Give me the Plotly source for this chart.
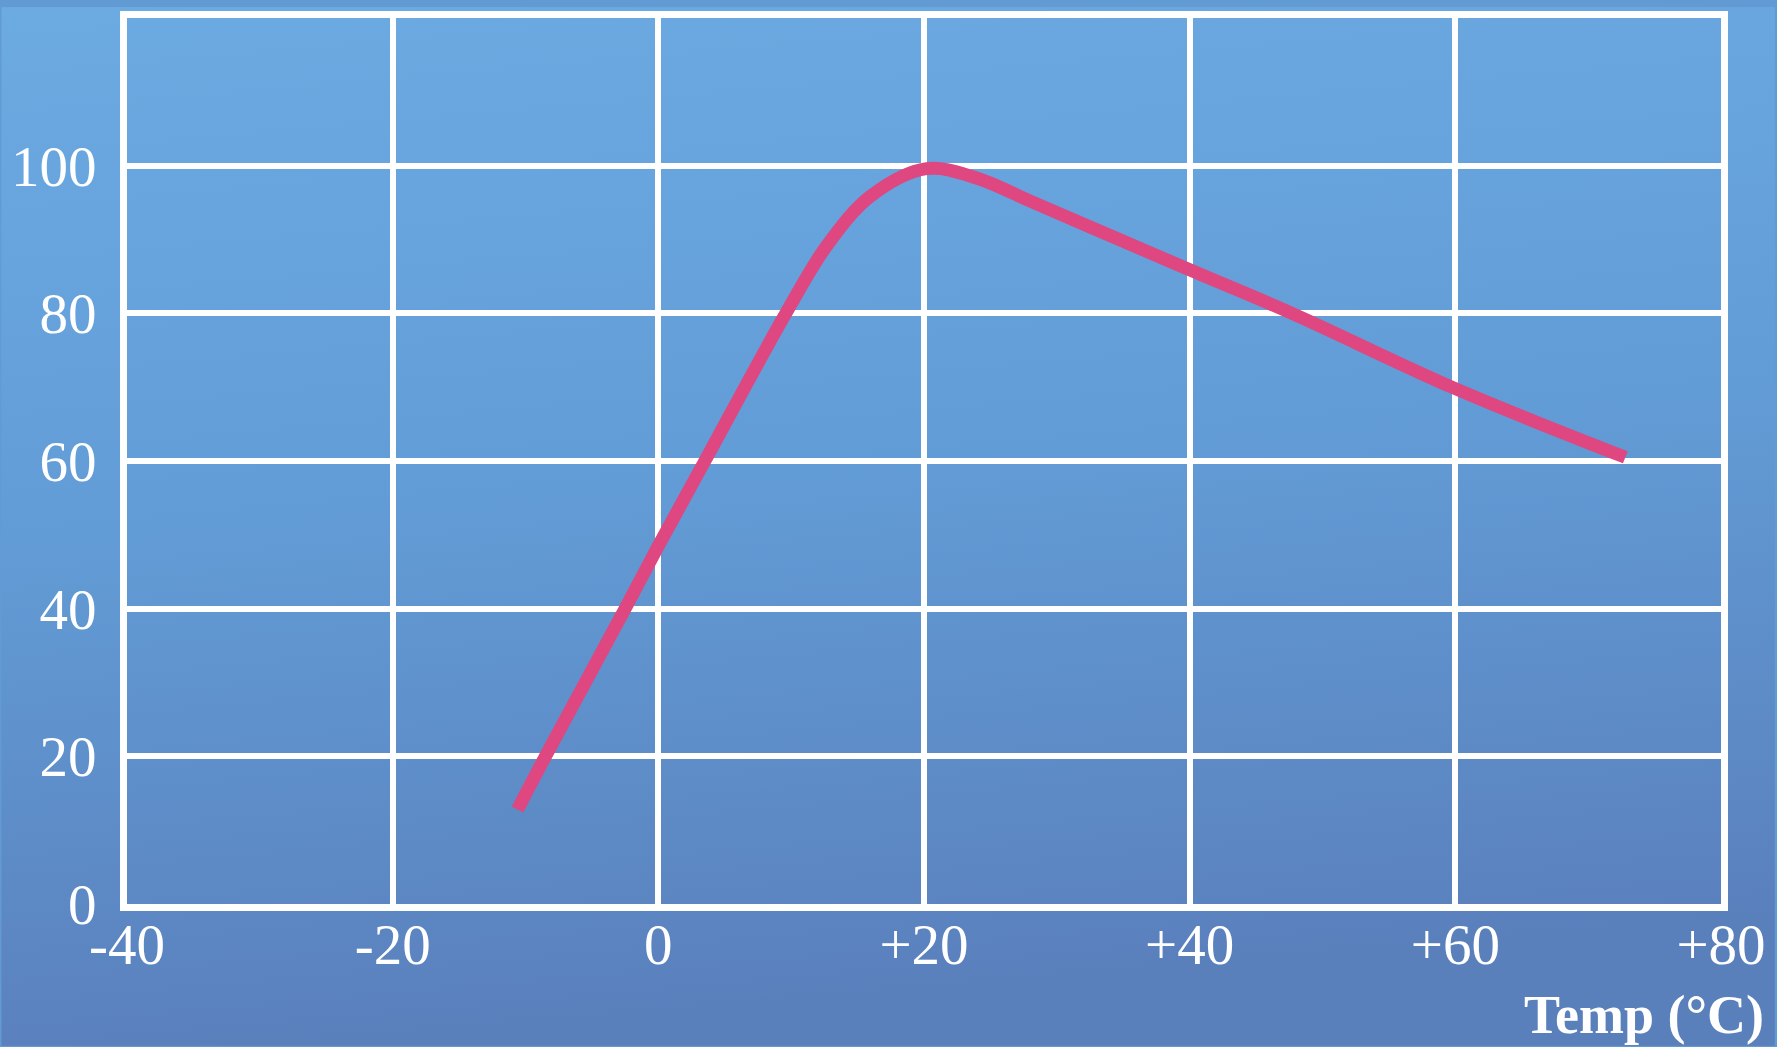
import base64
import plotly.graph_objects as go

# ---- data ----
temp_c = [-10.6, -8.5, -2.5, 0, 3.5, 9.6, 12.7, 16, 20.2, 24, 28, 32.9, 40, 47.7, 60, 72.8]
relative_value = [12.8, 20, 40, 48.5, 60, 80, 89.2, 95.9, 99.6, 98.3, 95.2, 91.4, 85.9, 80, 69.8, 60.5]
x_ticks = [-40, -20, 0, 20, 40, 60, 80]
x_tick_labels = ["-40", "-20", "0", "+20", "+40", "+60", "+80"]
y_ticks = [0, 20, 40, 60, 80, 100]
y_tick_labels = ["0", "20", "40", "60", "80", "100"]
x_title = "Temp (°C)"

W, H = 1777, 1047
L, R, T, B = 126, 54, 11, 143
PW, PH = W - L - R, H - T - B

svg = f'''<svg xmlns="http://www.w3.org/2000/svg" width="{W}" height="{H}" preserveAspectRatio="none">
<defs><linearGradient id="g" x1="0" y1="0" x2="0.15" y2="1">
<stop offset="0" stop-color="#6caae2"/>
<stop offset="0.5" stop-color="#629cd6"/>
<stop offset="1" stop-color="#5a80bc"/>
</linearGradient></defs>
<rect width="{W}" height="{H}" fill="url(#g)"/></svg>'''
src = "data:image/svg+xml;base64," + base64.b64encode(svg.encode()).decode()

fig = go.Figure()
fig.add_trace(go.Scatter(
    x=temp_c, y=relative_value, mode="lines",
    line=dict(color="#df4781", width=13, shape="spline", smoothing=1.0),
    hoverinfo="skip", showlegend=False,
))

font = dict(family="Liberation Serif, Times New Roman, serif", color="white", size=57)

fig.update_layout(
    width=W, height=H,
    margin=dict(l=L, r=R, t=T, b=B),
    paper_bgcolor="#629bd4",
    plot_bgcolor="rgba(0,0,0,0)",
    font=font,
    images=[dict(source=src, xref="paper", yref="paper",
                 x=-L / PW, y=1 + T / PH, sizex=W / PW, sizey=H / PH,
                 xanchor="left", yanchor="top", sizing="stretch", layer="below")],
    xaxis=dict(range=[-40, 80], tickvals=x_ticks, ticktext=x_tick_labels,
               showgrid=True, gridcolor="white", gridwidth=6,
               showline=True, linecolor="white", linewidth=7, mirror=True,
               zeroline=False, ticks="", ticklabelstandoff=-15,
               tickfont=font, fixedrange=True),
    yaxis=dict(range=[0, 120], tickvals=y_ticks + [120], ticktext=y_tick_labels + [""],
               showgrid=True, gridcolor="white", gridwidth=6,
               showline=True, linecolor="white", linewidth=7, mirror=True,
               zeroline=False, ticks="", ticklabelstandoff=12,
               tickfont=font, fixedrange=True),
    annotations=[dict(text=f"<b>{x_title}</b>", xref="paper", yref="paper",
                      x=(1768 - L) / PW, y=(H - B - 1016) / PH,
                      xanchor="right", yanchor="middle", showarrow=False,
                      font=dict(family=font["family"], color="white", size=54))],
)

fig.write_html(
    "out.html",
    config={"displayModeBar": False},
    post_script="document.body.style.margin='0';document.body.style.overflow='hidden';"
                "document.body.style.background='#629bd4';",
)
